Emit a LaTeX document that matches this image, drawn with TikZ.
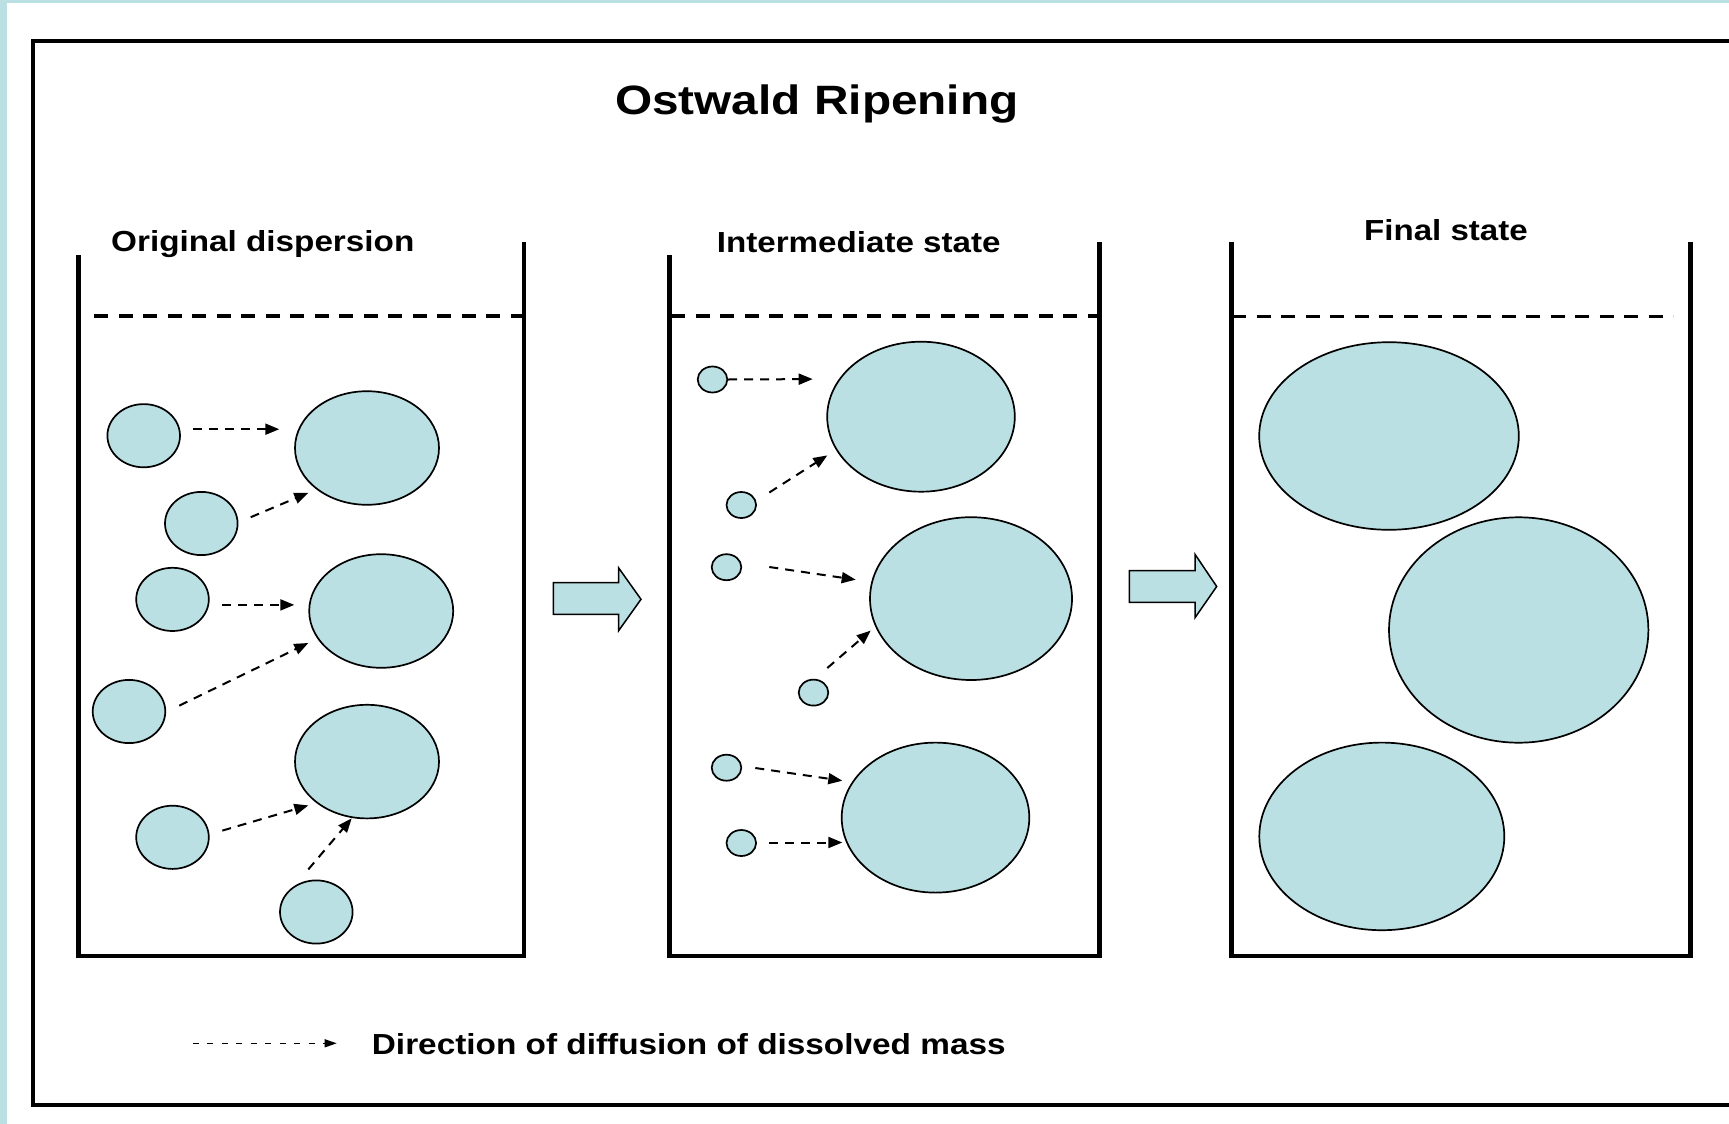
\documentclass[tikz,border=0pt]{standalone}
\usepackage{fontspec}
\setmainfont{Liberation Sans}
\usepackage{graphicx}
\usetikzlibrary{shapes.geometric,arrows.meta}
\definecolor{dropblue}{RGB}{186,224,227}
\tikzset{
  drop/.style={ellipse, draw=black, line width=1.7pt, fill=dropblue, inner sep=0pt},
  smalldrop/.style={drop, minimum width=72.6pt, minimum height=63.2pt},
  bigdrop/.style={drop, minimum width=144pt, minimum height=113.6pt},
  tinydrop/.style={drop, minimum width=29.6pt, minimum height=26pt},
  wall/.style={line width=4.5pt, line join=miter},
  level/.style={line width=3.3pt, dash pattern=on 14pt off 10.5pt},
  diff/.style={line width=2pt, dash pattern=on 9pt off 7pt, -{Triangle[length=14pt,width=11pt]}},
  legendarrow/.style={line width=1.3pt, dash pattern=on 6pt off 8.5pt, -{Triangle[length=12pt,width=8pt]}},
  blockarrow/.style={draw=black, line width=1.5pt, fill=dropblue, line join=miter},
  lbl/.style={anchor=base west, inner sep=0pt, font=\bfseries\fontsize{29}{34}\selectfont},
  frame/.style={line width=4.8pt}
}
\begin{document}
\begin{tikzpicture}[x=1pt,y=-1pt]
\useasboundingbox (0,0) rectangle (1729,1124);
\clip (0,0) rectangle (1729,1124);
% light blue page border
\fill[dropblue] (0,0) rectangle (6.5,1124);
\fill[dropblue] (0,0) rectangle (1729,3.5);
% outer frame (open to the right)
\draw[frame] (1740,41) -- (33,41) -- (33,1105) -- (1740,1105);

% title
\node[anchor=base west, inner sep=0pt, font=\bfseries\fontsize{41}{48}\selectfont] (title) at (615,114.3) {\scalebox{1.165}[1]{Ostwald Ripening}};

% labels
\node[lbl] (lab1) at (111,251.7) {\scalebox{1.147}[1]{Original dispersion}};
\node[lbl] (lab2) at (716.7,252.7) {\scalebox{1.143}[1]{Intermediate state}};
\node[lbl] (lab3) at (1364,240.7) {\scalebox{1.14}[1]{Final state}};

% beakers
\draw[wall] (78.5,255) -- (78.5,956) -- (524,956) -- (524,242);
\draw[wall] (669.3,255) -- (669.3,956) -- (1099.5,956) -- (1099.5,242);
\draw[wall] (1231.3,242) -- (1231.3,956) -- (1690.5,956) -- (1690.5,242);

% liquid levels
\draw[level] (94,316) -- (524,316);
\draw[level] (671,316) -- (1099,316);
\draw[level] (1232,316.5) -- (1673,316.5);

% block arrows
\draw[blockarrow] (553.3,582.6) -- (618.7,582.6) -- (618.7,568) -- (641,599.3) -- (618.7,630.6) -- (618.7,614.3) -- (553.3,614.3) -- cycle;
\draw[blockarrow] (1129.3,570.7) -- (1195,570.7) -- (1195,554.3) -- (1216.7,586.5) -- (1195,617.7) -- (1195,602.3) -- (1129.3,602.3) -- cycle;

% beaker 1 droplets
\node[smalldrop] (s1) at (143.7,435.7) {};
\node[bigdrop]   (B1) at (367,448) {};
\node[smalldrop] (s2) at (201.3,523.5) {};
\node[smalldrop] (s3) at (172.5,599.4) {};
\node[bigdrop]   (B2) at (381.2,611) {};
\node[smalldrop] (s4) at (129,711.5) {};
\node[bigdrop]   (B3) at (367,761.6) {};
\node[smalldrop] (s5) at (172.5,837.3) {};
\node[smalldrop] (s6) at (316.3,912) {};

% beaker 2 droplets
\node[tinydrop] (t1) at (712.5,379.5) {};
\node[drop, minimum width=187.6pt, minimum height=150pt] (C1) at (921,416.7) {};
\node[tinydrop] (t2) at (741.3,505) {};
\node[tinydrop] (t3) at (726.5,567.2) {};
\node[drop, minimum width=202pt, minimum height=162.8pt] (C2) at (971,598.6) {};
\node[tinydrop] (t4) at (813.5,692.6) {};
\node[tinydrop] (t5) at (726.5,767.7) {};
\node[drop, minimum width=187.6pt, minimum height=150pt] (C3) at (935.5,817.6) {};
\node[tinydrop] (t6) at (741.3,843) {};

% beaker 3 droplets
\node[drop, minimum width=259.6pt, minimum height=187.6pt] (D1) at (1389,436) {};
\node[drop, minimum width=259.4pt, minimum height=225.4pt] (D2) at (1518.7,630) {};
\node[drop, minimum width=245pt, minimum height=187.6pt] (D3) at (1381.8,836.4) {};

% diffusion arrows, beaker 1
\coordinate (a1s) at (193.3,429.2); \coordinate (a1e) at (279.3,429.2);
\coordinate (a2s) at (250.7,517.2); \coordinate (a2e) at (308.3,492.8);
\coordinate (a3s) at (222.3,604.9); \coordinate (a3e) at (294.3,604.9);
\coordinate (a4s) at (179.3,705.6); \coordinate (a4e) at (308.3,643);
\coordinate (a5s) at (222.3,830.6); \coordinate (a5e) at (308.3,805.4);
\coordinate (a6s) at (308.3,869.4); \coordinate (a6e) at (351.7,818.4);
\draw[diff] (a1s) -- (a1e);
\draw[diff] (a2s) -- (a2e);
\draw[diff] (a3s) -- (a3e);
\draw[diff] (a4s) -- (a4e);
\draw[diff] (a5s) -- (a5e);
\draw[diff] (a6s) -- (a6e);

% diffusion arrows, beaker 2
\coordinate (b1e) at (812.7,379.1);
\coordinate (b2s) at (769.3,492.5); \coordinate (b2e) at (827.3,455.4);
\coordinate (b3s) at (769.3,567);   \coordinate (b3e) at (855.7,579.7);
\coordinate (b4s) at (827.3,668);   \coordinate (b4e) at (870.7,630.6);
\coordinate (b5s) at (755.3,768);   \coordinate (b5e) at (842.3,780.7);
\coordinate (b6s) at (769.3,842.5); \coordinate (b6e) at (842.3,842.5);
\draw[diff] (t1.east) -- (b1e);
\draw[diff] (b2s) -- (b2e);
\draw[diff] (b3s) -- (b3e);
\draw[diff] (b4s) -- (b4e);
\draw[diff] (b5s) -- (b5e);
\draw[diff] (b6s) -- (b6e);

% legend
\coordinate (ls) at (192.7,1043.3); \coordinate (le) at (336.7,1043.3);
\draw[legendarrow] (ls) -- (le);
\node[lbl] (legend) at (371.7,1054) {\scalebox{1.15}[1]{Direction of diffusion of dissolved mass}};
\end{tikzpicture}
\end{document}
